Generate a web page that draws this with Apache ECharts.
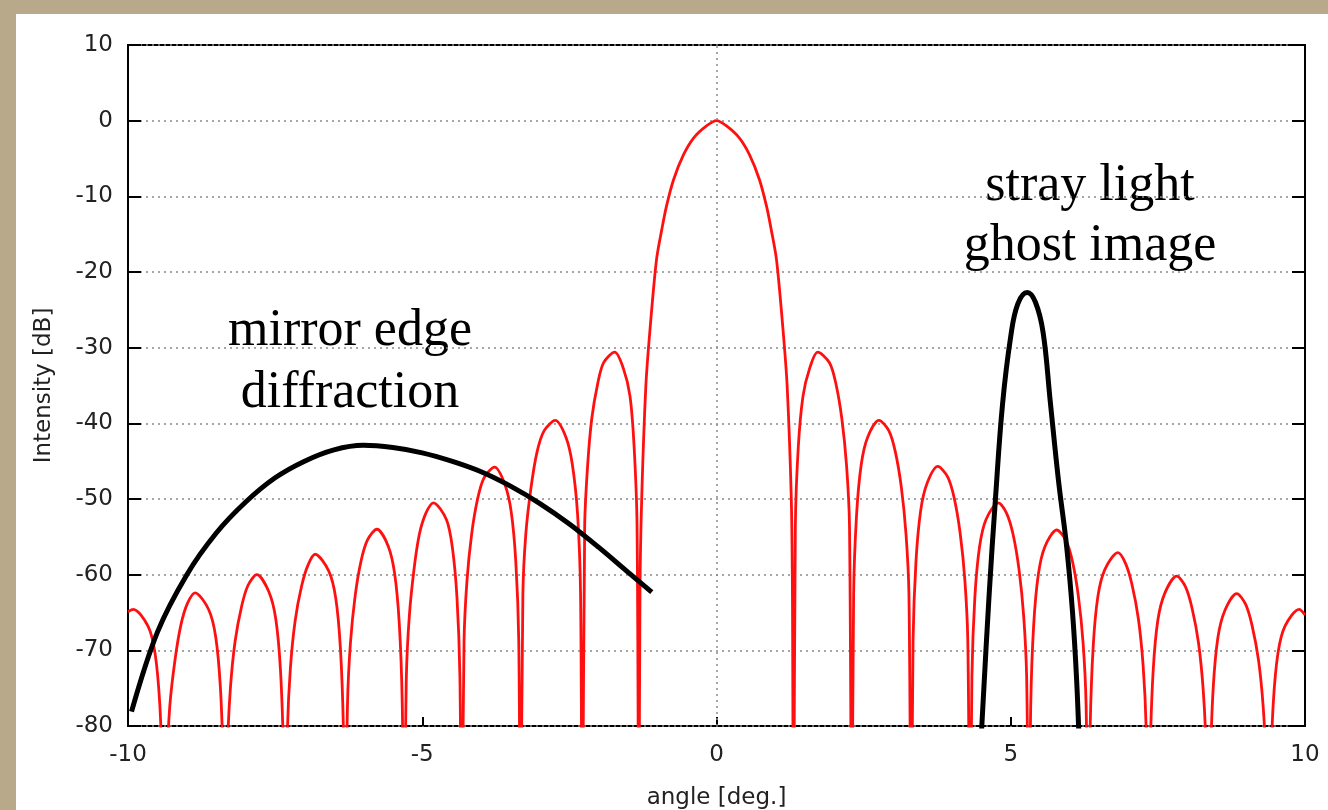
<!DOCTYPE html>
<html>
<head>
<meta charset="utf-8">
<script src="https://cdn.jsdelivr.net/npm/echarts@6/dist/echarts.min.js"></script>
<style>
  html, body { margin: 0; padding: 0; width: 1328px; height: 810px; overflow: hidden; background: #b7a989; }
  #chart { position: absolute; left: 16px; top: 14px; width: 1312px; height: 796px; background: #ffffff; }
</style>
</head>
<body>
<div id="chart"></div>
<script>
// Axis ticks
const angleTicks = [-10, -5, 0, 5, 10];
const intensityTicks = [10, 0, -10, -20, -30, -40, -50, -60, -70, -80];

// Far-field pattern [angle (deg), intensity (dB)], left side lobes in ascending angle
const leftSidelobes = [
  [-10.0, -64.9], [-9.91, -64.6], [-9.66, -66.8], [-9.54, -70.4], [-9.46, -77.1], [-9.41, -87.6], [-9.38, -100],
  [-9.34, -85.4], [-9.29, -77.4], [-9.20, -71.2], [-9.10, -66.6], [-8.99, -63.8], [-8.86, -62.4], [-8.63, -64.6], [-8.51, -68.2], [-8.43, -74.9], [-8.38, -85.4], [-8.35, -100],
  [-8.31, -83.0], [-8.26, -75.0], [-8.18, -68.8], [-8.07, -64.2], [-7.96, -61.4], [-7.81, -60.0], [-7.61, -62.2], [-7.49, -65.8], [-7.41, -72.5], [-7.36, -83.0], [-7.33, -100],
  [-7.29, -80.3], [-7.24, -72.3], [-7.16, -66.1], [-7.05, -61.5], [-6.94, -58.7], [-6.82, -57.3], [-6.59, -59.5], [-6.47, -63.1], [-6.39, -69.8], [-6.34, -80.3], [-6.31, -100],
  [-6.27, -77.0], [-6.22, -69.0], [-6.14, -62.8], [-6.04, -58.2], [-5.93, -55.4], [-5.77, -54.0], [-5.58, -56.2], [-5.47, -59.8], [-5.39, -66.5], [-5.34, -77.0], [-5.31, -100],
  [-5.27, -73.5], [-5.22, -65.5], [-5.14, -59.3], [-5.05, -54.7], [-4.94, -51.9], [-4.81, -50.5], [-4.59, -52.7], [-4.49, -56.3], [-4.41, -63.0], [-4.36, -73.5], [-4.33, -100],
  [-4.29, -68.8], [-4.24, -60.8], [-4.16, -54.6], [-4.06, -50.0], [-3.95, -47.2], [-3.77, -45.8], [-3.60, -48.0], [-3.49, -51.6], [-3.41, -58.3], [-3.36, -68.8], [-3.33, -100],
  [-3.29, -62.6], [-3.24, -54.6], [-3.15, -48.4], [-3.05, -43.8], [-2.93, -41.0], [-2.74, -39.6], [-2.56, -41.8], [-2.45, -45.4], [-2.36, -52.1], [-2.31, -62.6], [-2.28, -100],
  [-2.24, -53.6], [-2.19, -45.6], [-2.12, -39.4], [-2.02, -34.8], [-1.92, -32.0], [-1.73, -30.6], [-1.58, -32.8], [-1.47, -36.4], [-1.40, -43.1], [-1.35, -53.6], [-1.32, -100]
];

// Main lobe
const mainLobe = [
  [-1.30, -62.0], [-1.27, -49.7], [-1.20, -35.0], [-1.13, -27.6], [-1.02, -18.4], [-0.93, -14.4], [-0.85, -11.3],
  [-0.73, -7.8], [-0.56, -4.5], [-0.39, -2.3], [-0.17, -0.7], [0, 0], [0.17, -0.7], [0.39, -2.3], [0.56, -4.5],
  [0.73, -7.8], [0.85, -11.3], [0.93, -14.4], [1.02, -18.4], [1.13, -27.6], [1.20, -35.0], [1.27, -49.7], [1.29, -62.0]
];

// Right side lobes
const rightSidelobes = [
  [1.31, -100], [1.34, -53.6], [1.39, -43.1], [1.47, -36.4], [1.58, -32.8], [1.72, -30.6], [1.92, -32.0], [2.03, -34.8], [2.13, -39.4], [2.21, -45.6], [2.26, -53.6],
  [2.30, -100], [2.33, -62.6], [2.38, -52.1], [2.46, -45.4], [2.57, -41.8], [2.76, -39.6], [2.93, -41.0], [3.04, -43.8], [3.14, -48.4], [3.22, -54.6], [3.27, -62.6],
  [3.31, -100], [3.34, -68.7], [3.39, -58.2], [3.47, -51.5], [3.58, -47.9], [3.76, -45.7], [3.93, -47.1], [4.04, -49.9], [4.14, -54.5], [4.22, -60.7], [4.27, -68.7],
  [4.31, -100], [4.34, -73.5], [4.39, -63.0], [4.47, -56.3], [4.58, -52.7], [4.79, -50.5], [4.93, -51.9], [5.04, -54.7], [5.14, -59.3], [5.22, -65.5], [5.27, -73.5],
  [5.31, -100], [5.34, -77.1], [5.39, -66.6], [5.47, -59.9], [5.58, -56.3], [5.78, -54.1], [5.94, -55.5], [6.05, -58.3], [6.15, -62.9], [6.23, -69.1], [6.28, -77.1],
  [6.32, -100], [6.35, -80.1], [6.40, -69.6], [6.48, -62.9], [6.60, -59.3], [6.82, -57.1], [6.95, -58.5], [7.06, -61.3], [7.17, -65.9], [7.25, -72.1], [7.30, -80.1],
  [7.34, -100], [7.37, -83.2], [7.42, -72.7], [7.50, -66.0], [7.62, -62.4], [7.82, -60.2], [7.97, -61.6], [8.08, -64.4], [8.19, -69.0], [8.27, -75.2], [8.32, -83.2],
  [8.36, -100], [8.39, -85.5], [8.44, -75.0], [8.52, -68.3], [8.64, -64.7], [8.84, -62.5], [8.99, -63.9], [9.10, -66.7], [9.21, -71.3], [9.29, -77.5], [9.34, -85.5],
  [9.38, -100], [9.41, -87.6], [9.46, -77.1], [9.54, -70.4], [9.66, -66.8], [9.90, -64.6], [10.0, -65.3]
];

// Sketched envelope of the mirror edge diffraction
const edgeDiffraction = [
  [-9.94, -78.1], [-9.5, -67.6], [-9.0, -60.0], [-8.5, -54.5], [-8.0, -50.4], [-7.5, -47.2], [-7.0, -45.0],
  [-6.5, -43.5], [-6.0, -42.9], [-5.5, -43.2], [-5.0, -43.9], [-4.5, -45.0], [-4.0, -46.4], [-3.5, -48.3],
  [-3.0, -50.6], [-2.5, -53.3], [-2.0, -56.4], [-1.5, -59.7], [-1.1, -62.3]
];

// Sketched stray light ghost image peak
const ghostImage = [
  [4.48, -84.0], [4.63, -63.0], [4.74, -50.0], [4.86, -37.5], [5.00, -28.5], [5.12, -24.2], [5.28, -22.7],
  [5.42, -24.0], [5.55, -28.0], [5.67, -37.0], [5.81, -47.5], [5.95, -56.3], [6.05, -65.0], [6.12, -74.0], [6.17, -84.0]
];

const pattern = leftSidelobes.concat(mainLobe, rightSidelobes);

const tickFont = { fontFamily: 'DejaVu Sans', fontSize: 23, color: '#222' };
const gridDots = { type: [2, 4], color: '#8a8a8a', width: 1.5 };
const inwardTick = (len) => ({ show: true, inside: true, length: len, lineStyle: { color: '#000', width: 2 } });

const chart = echarts.init(document.getElementById('chart'), null, { renderer: 'canvas' });
chart.setOption({
  animation: false,
  backgroundColor: '#ffffff',
  grid: {
    left: 112, top: 31, right: 23, bottom: 84, outerBoundsMode: 'none',
    show: true, borderColor: '#000', borderWidth: 2, backgroundColor: 'transparent'
  },
  xAxis: {
    type: 'value', min: angleTicks[0], max: angleTicks[angleTicks.length - 1], interval: 5,
    name: 'angle [deg.]', nameLocation: 'middle', nameGap: 61,
    nameTextStyle: { fontFamily: 'DejaVu Sans', fontSize: 23, color: '#222' },
    axisLine: { show: false, onZero: false },
    axisTick: inwardTick(9),
    axisLabel: Object.assign({ margin: 18 }, tickFont),
    splitLine: { show: false }
  },
  yAxis: [{
    type: 'value', min: intensityTicks[intensityTicks.length - 1], max: intensityTicks[0], interval: 10,
    position: 'left',
    name: 'Intensity [dB]', nameLocation: 'middle', nameGap: 72, nameRotate: 90,
    nameTextStyle: { fontFamily: 'DejaVu Sans', fontSize: 23, color: '#222' },
    axisLine: { show: false, onZero: false },
    axisTick: inwardTick(13),
    axisLabel: Object.assign({ margin: 15 }, tickFont),
    splitLine: { show: true, lineStyle: gridDots }
  }, {
    type: 'value', min: intensityTicks[intensityTicks.length - 1], max: intensityTicks[0], interval: 10,
    position: 'right',
    axisLine: { show: false, onZero: false },
    axisTick: inwardTick(13),
    axisLabel: { show: false },
    splitLine: { show: false }
  }],
  series: [{
    type: 'line', data: pattern, symbol: 'none', clip: true, z: 3,
    smooth: 0.3,
    lineStyle: { color: '#ff1010', width: 2.8 },
    markLine: {
      silent: true, symbol: ['none', 'none'], label: { show: false },
      lineStyle: gridDots, data: [{ xAxis: 0 }]
    }
  }, {
    type: 'line', data: edgeDiffraction, symbol: 'none', smooth: 0.35, clip: true, z: 4,
    lineStyle: { color: '#000', width: 5, cap: 'butt' }
  }, {
    type: 'line', data: ghostImage, symbol: 'none', smooth: 0.4, clip: true, z: 4,
    lineStyle: { color: '#000', width: 5, cap: 'butt' }
  }],
  graphic: [{
    type: 'text', x: 334, y: 348,
    style: { text: 'mirror edge\ndiffraction', fontFamily: 'Liberation Serif', fontSize: 52, lineHeight: 62,
      fill: '#000', align: 'center', verticalAlign: 'middle' }
  }, {
    type: 'text', x: 1074, y: 202,
    style: { text: 'stray light\nghost image', fontFamily: 'Liberation Serif', fontSize: 52, lineHeight: 60,
      fill: '#000', align: 'center', verticalAlign: 'middle' }
  }]
});
</script>
</body>
</html>
